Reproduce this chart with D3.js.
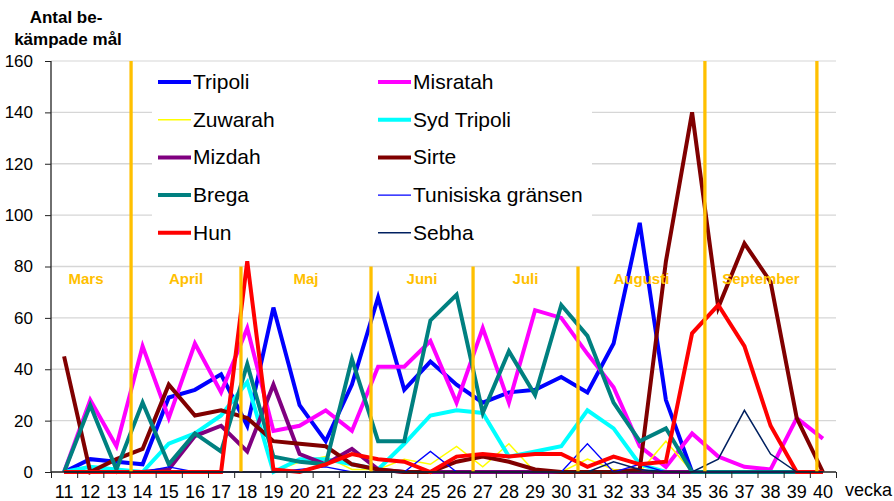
<!DOCTYPE html>
<html>
<head>
<meta charset="utf-8">
<script src="https://cdn.jsdelivr.net/npm/d3@7"></script>
<style>
  body{margin:0;background:#fff;}
  svg{font-family:"Liberation Sans",Arial,sans-serif;}
</style>
</head>
<body>
<svg></svg>
<script>
var weeks = [11,12,13,14,15,16,17,18,19,20,21,22,23,24,25,26,27,28,29,30,31,32,33,34,35,36,37,38,39,40];
var yTicks = [0,20,40,60,80,100,120,140,160];

var tripoli    = [0,5,4,3,29,32,38,18,64,26,12,34,68,32,43,34,27,31,32,37,31,50,97,28,0,0,0,0,0,0];
var misratah   = [0,28,10,49,21,50,31,56,16,18,24,16,41,41,51,27,56,27,63,60,46,33,10,2,15,6,2,1,21,13];
var zuwarah    = [0,0,0,0,0,0,0,0,0,4,6,1,1,5,3,10,2,11,0,0,5,1,0,12,0,0,0,0,0,0];
var sydTripoli = [0,2,1,0,11,15,22,35,0,5,5,3,1,11,22,24,23,6,8,10,24,17,3,0,0,0,0,0,0,0];
var mizdah     = [0,0,0,0,1,14,18,8,34,7,3,9,1,0,0,0,0,0,0,0,0,0,0,0,0,0,0,0,0,0];
var sirte      = [45,0,5,9,34,22,24,21,12,11,10,3,1,0,0,4,6,4,1,0,0,0,1,82,140,64,89,74,21,0];
var brega      = [0,26,1,27,3,15,8,42,6,4,3,44,12,12,59,69,23,47,30,65,53,27,12,17,0,0,0,0,0,0];
var tunisiska  = [0,0,0,0,2,0,0,0,0,1,2,0,0,0,8,0,0,0,0,0,11,0,3,0,0,0,0,0,0,0];
var hun        = [0,0,0,0,0,0,0,82,1,0,3,7,5,4,0,6,7,6,7,7,2,6,3,4,54,65,49,18,0,0];
var sebha      = [0,0,0,0,0,0,0,0,0,0,0,0,0,0,0,0,0,0,0,0,0,4,1,0,0,5,24,7,0,0];

// month separators: position in week units and how high they reach
var monthNames = ["Mars","April","Maj","Juni","Juli","Augusti","September"];
var monthEnds  = [13.56,17.76,22.73,26.63,30.64,35.49,39.77];
var monthTops  = [160,80,80,80,80,160,160];

var series = [
  {name:"Tripoli", values:tripoli, color:"#0000ff", w:4},
  {name:"Misratah", values:misratah, color:"#ff00ff", w:4},
  {name:"Zuwarah", values:zuwarah, color:"#ffff00", w:1.5},
  {name:"Syd Tripoli", values:sydTripoli, color:"#00ffff", w:4},
  {name:"Mizdah", values:mizdah, color:"#800080", w:4},
  {name:"Sirte", values:sirte, color:"#800000", w:4},
  {name:"Brega", values:brega, color:"#008080", w:4},
  {name:"Tunisiska gränsen", values:tunisiska, color:"#0000ff", w:1.3},
  {name:"Hun", values:hun, color:"#ff0000", w:4},
  {name:"Sebha", values:sebha, color:"#002060", w:1.5}
];

draw();

function draw(){
  var width = 894, height = 501;
  var left = 51, right = 836, plotTop = 61, bottom = 472;

  var svg = d3.select("svg").attr("width",width).attr("height",height);

  var x = d3.scaleBand().domain(weeks).range([left,right]).padding(0);
  var xLin = d3.scaleLinear().domain([10.5,40.5]).range([left,right]);
  var y = d3.scaleLinear().domain([0,160]).range([bottom,plotTop]);

  // gridlines
  svg.append("g")
     .selectAll("line")
     .data(yTicks.slice(1,-1))
     .enter()
     .append("line")
     .attr("x1",left).attr("x2",right)
     .attr("y1",function(d){return y(d);})
     .attr("y2",function(d){return y(d);})
     .attr("stroke","#d6d6d6")
     .attr("stroke-width",1.3);

  // legend background hides the gridlines behind it
  svg.append("rect")
     .attr("x",152).attr("y",63)
     .attr("width",440).attr("height",195)
     .attr("fill","#fff");

  svg.append("line")
     .attr("x1",left).attr("x2",right)
     .attr("y1",y(160)).attr("y2",y(160))
     .attr("stroke","#e3e3e3")
     .attr("stroke-width",1.3);

  // series
  var line = d3.line()
               .x(function(d,i){return x(weeks[i])+x.bandwidth()/2;})
               .y(function(d){return y(d);});

  svg.append("g")
     .selectAll("path")
     .data(series)
     .enter()
     .append("path")
     .attr("d",function(s){return line(s.values);})
     .attr("fill","none")
     .attr("stroke",function(s){return s.color;})
     .attr("stroke-width",function(s){return s.w;})
     .attr("stroke-linejoin","miter");

  // month separators
  svg.append("g")
     .selectAll("line")
     .data(monthEnds)
     .enter()
     .append("line")
     .attr("x1",function(d){return xLin(d);})
     .attr("x2",function(d){return xLin(d);})
     .attr("y1",function(d,i){return y(monthTops[i]);})
     .attr("y2",bottom)
     .attr("stroke","#ffc000")
     .attr("stroke-width",3.3);

  // month labels, centred between separators
  svg.append("g")
     .selectAll("text")
     .data(monthNames)
     .enter()
     .append("text")
     .attr("x",function(d,i){
       var a = i==0 ? 10.5 : monthEnds[i-1];
       return xLin((a+monthEnds[i])/2) - (i==0 ? 5 : 0);
     })
     .attr("y",284)
     .attr("text-anchor","middle")
     .attr("font-size",15)
     .attr("font-weight","bold")
     .attr("fill","#ffc000")
     .text(function(d){return d;});

  // legend entries
  var items = svg.append("g")
                 .selectAll("g")
                 .data(series)
                 .enter()
                 .append("g")
                 .attr("transform",function(d,i){
                   var col = i%2, row = Math.floor(i/2);
                   return "translate("+(col==0 ? 158 : 378)+","+(82+row*37.7)+")";
                 });
  items.append("line")
       .attr("x1",0).attr("x2",33)
       .attr("stroke",function(s){return s.color;})
       .attr("stroke-width",function(s){return s.w;});
  items.append("text")
       .attr("x",35)
       .attr("y",7)
       .attr("font-size",21)
       .attr("fill","#000")
       .text(function(s){return s.name;});

  // axes
  var yAxis = svg.append("g")
                 .attr("transform","translate("+left+",0)")
                 .call(d3.axisLeft(y).tickValues(yTicks).tickSize(6).tickPadding(12));
  yAxis.selectAll("text").attr("font-size",17).attr("fill","#000");

  var xTicks = svg.append("g")
                  .attr("transform","translate(0,"+bottom+")")
                  .call(d3.axisBottom(xLin).tickValues(d3.range(10.5,41,1)).tickSize(6).tickFormat(""));

  var xAxis = svg.append("g")
                 .attr("transform","translate(0,"+bottom+")")
                 .call(d3.axisBottom(x).tickSize(0).tickPadding(13));
  xAxis.selectAll("text").attr("font-size",18).attr("fill","#000");

  svg.selectAll(".domain").attr("stroke","#222").attr("stroke-width",1.3);
  svg.selectAll(".tick line").attr("stroke","#222");
  xAxis.select(".domain").remove();
  yAxis.select(".domain").attr("d","M0,"+plotTop+"V"+bottom);
  xTicks.select(".domain").attr("d","M"+left+",0H"+right);

  svg.append("text")
     .attr("x",845).attr("y",496)
     .attr("font-size",18)
     .text("vecka");

  // axis title
  var title = svg.append("text")
                 .attr("text-anchor","middle")
                 .attr("font-size",17)
                 .attr("font-weight","bold");
  title.append("tspan").attr("x",66).attr("y",23).text("Antal be-");
  title.append("tspan").attr("x",68).attr("y",45).text("kämpade mål");
}
</script>
</body>
</html>
